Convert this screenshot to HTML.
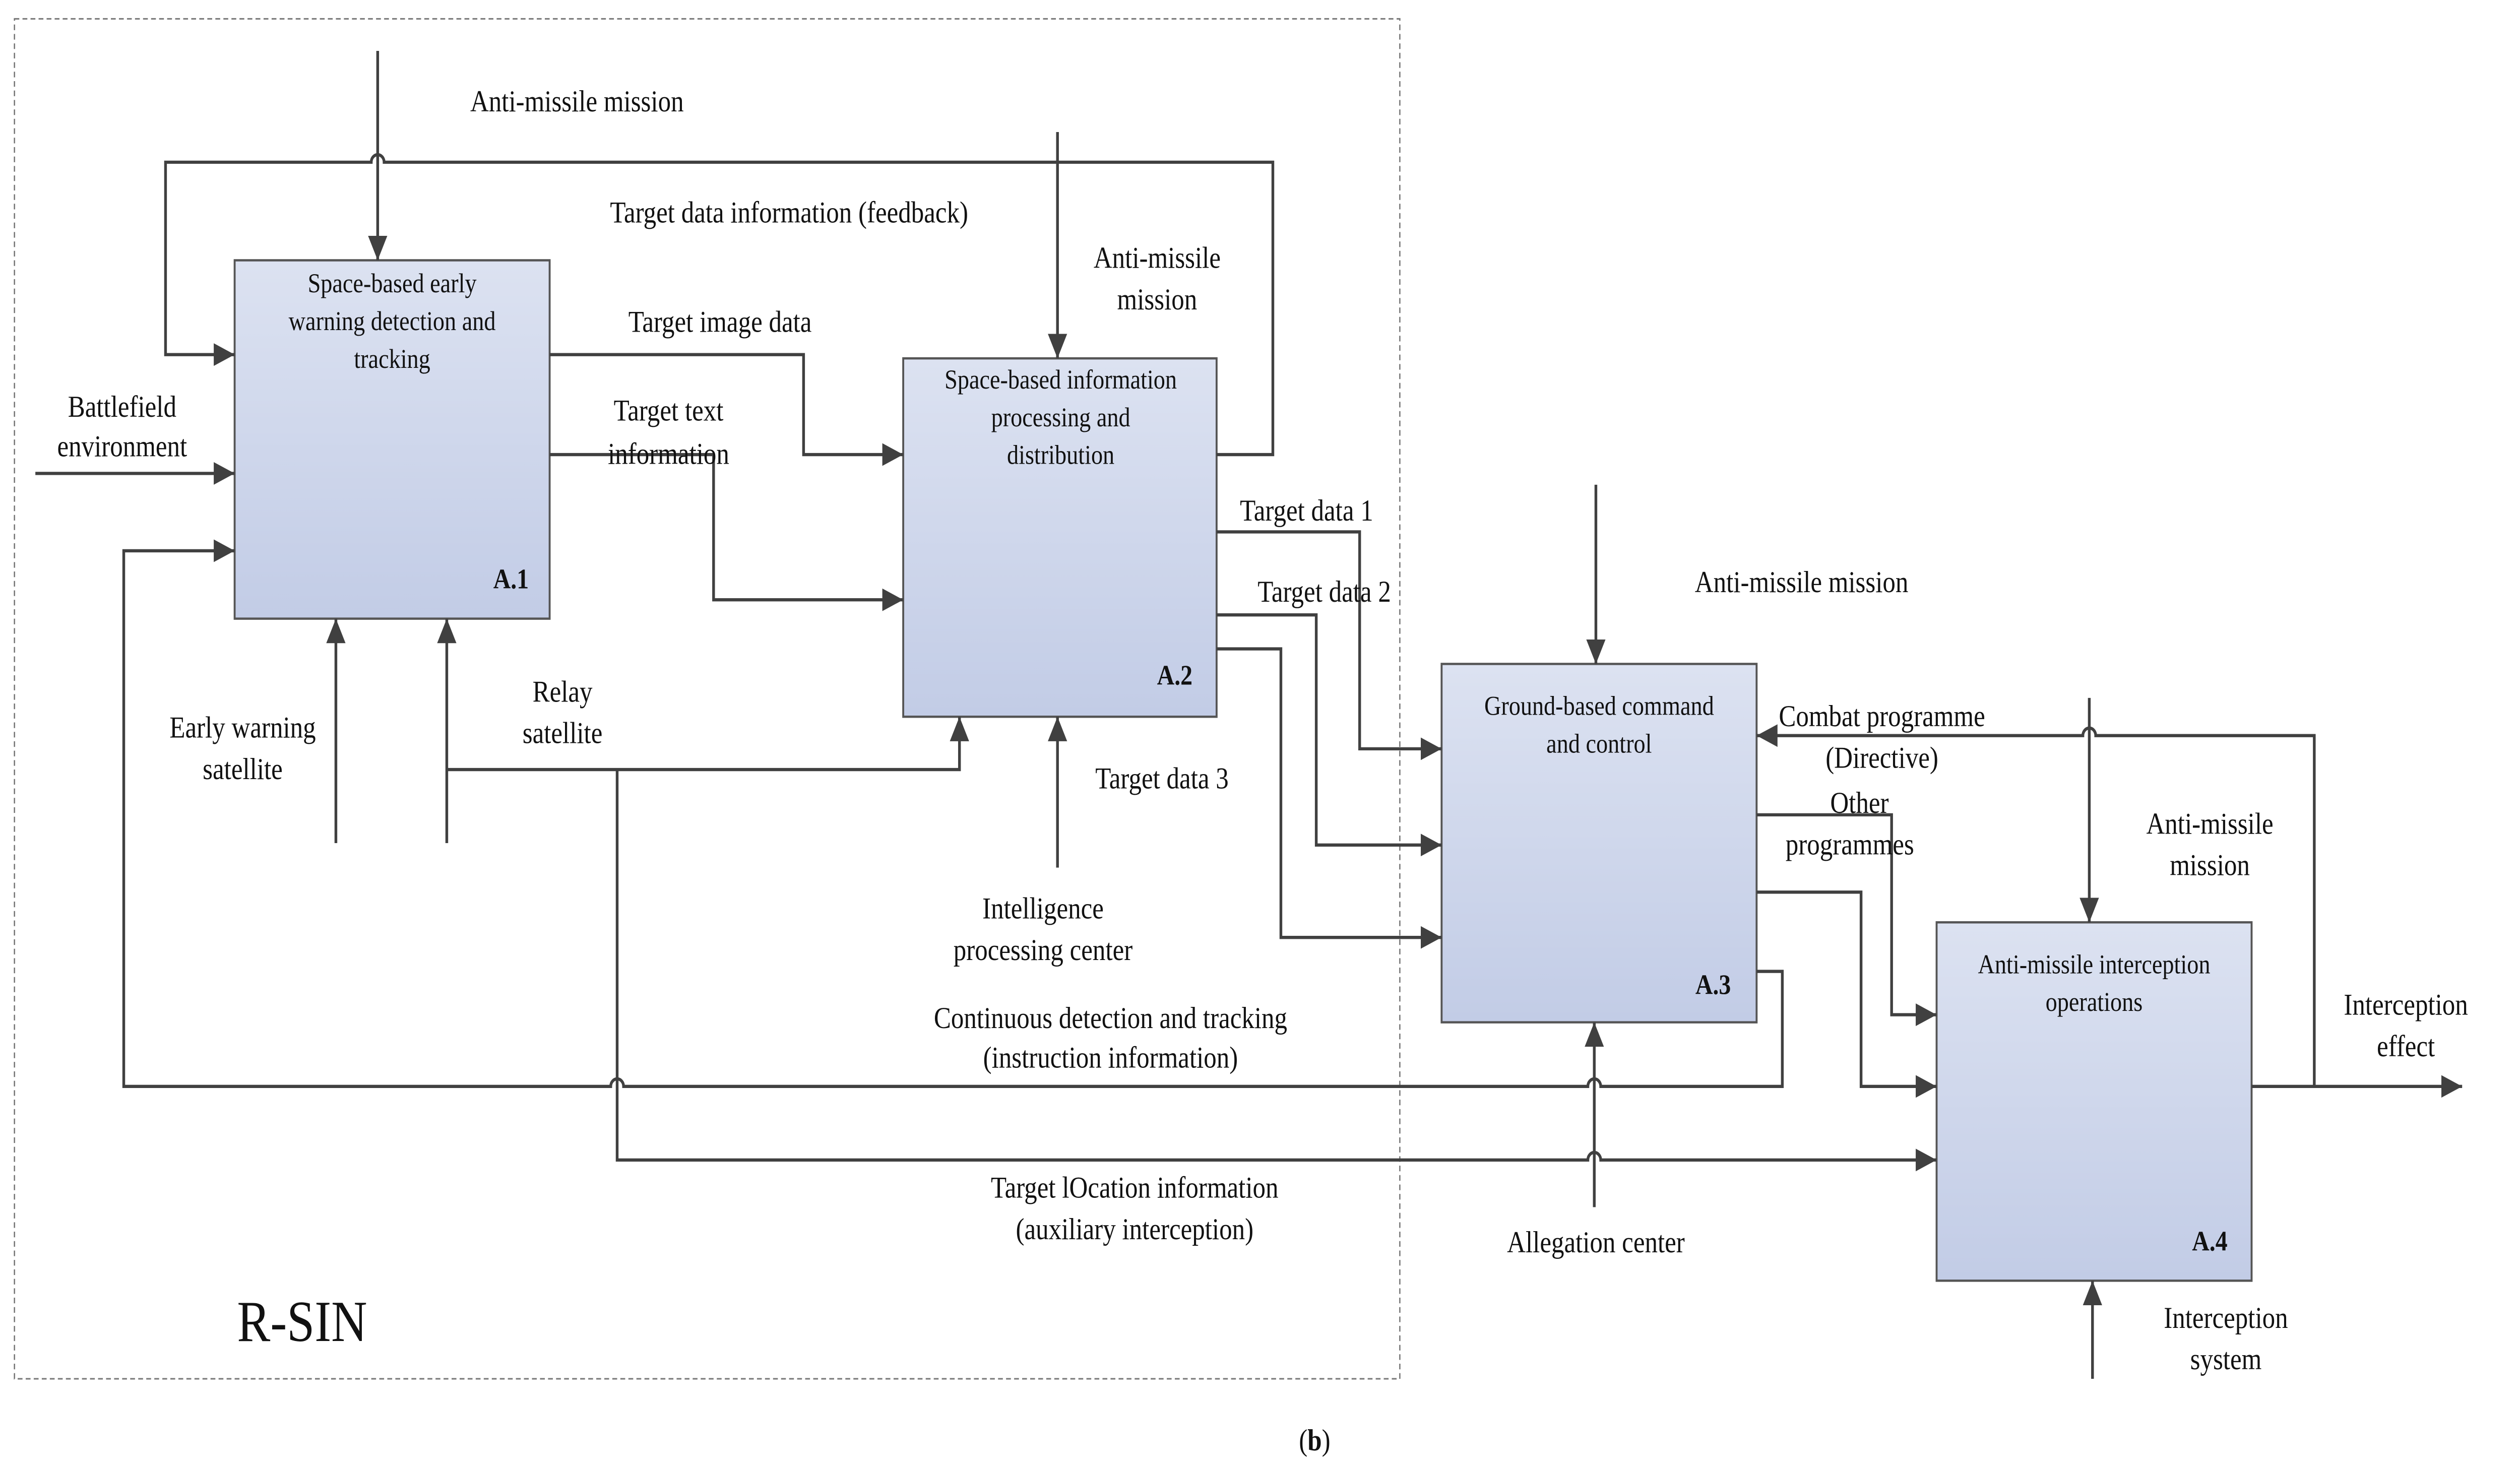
<!DOCTYPE html>
<html><head><meta charset="utf-8"><style>
html,body{margin:0;padding:0;background:#fff;overflow:hidden;}
svg{display:block;width:100vw;height:100vh;}
text{font-family:"Liberation Serif",serif;fill:#111;}
</style></head><body>
<svg viewBox="0 0 1568 778.3" preserveAspectRatio="none" xmlns="http://www.w3.org/2000/svg">
<defs>
<linearGradient id="g" x1="0" y1="0" x2="0" y2="1"><stop offset="0" stop-color="#dce2f1"/><stop offset="1" stop-color="#c2cce6"/></linearGradient>
<marker id="a" markerUnits="userSpaceOnUse" markerWidth="14" markerHeight="12" refX="13" refY="6" orient="auto"><path d="M0,0 L13,6 L0,12 Z" fill="#404040"/></marker>
</defs>
<rect x="9" y="10" width="862" height="721" fill="none" stroke="#777" stroke-width="0.8" stroke-dasharray="3,2"/>
<g fill="url(#g)" stroke="#555" stroke-width="1.2">
<rect x="146" y="138" width="196" height="190"/>
<rect x="562" y="190" width="195" height="190"/>
<rect x="897" y="352" width="196" height="190"/>
<rect x="1205" y="489" width="196" height="190"/>
</g>
<g fill="none" stroke="#404040" stroke-width="1.7">
<path d="M235,27 V138" marker-end="url(#a)"/>
<path d="M757,241 H792 V86 H239 A4,4 0 0 0 231,86 H103 V188 H146" marker-end="url(#a)"/>
<path d="M658,70 V190" marker-end="url(#a)"/>
<path d="M22,251 H146" marker-end="url(#a)"/>
<path d="M1093,515 H1109 V576 H996 A4,4 0 0 0 988,576 H388 A4,4 0 0 0 380,576 H77 V292 H146" marker-end="url(#a)"/>
<path d="M342,188 H500 V241 H562" marker-end="url(#a)"/>
<path d="M342,241 H444 V318 H562" marker-end="url(#a)"/>
<path d="M209,447 V328" marker-end="url(#a)"/>
<path d="M278,447 V328" marker-end="url(#a)"/>
<path d="M278,408 H597 V380" marker-end="url(#a)"/>
<path d="M384,408 V615 H988 A4,4 0 0 1 996,615 H1205" marker-end="url(#a)"/>
<path d="M658,460 V380" marker-end="url(#a)"/>
<path d="M757,282 H846 V397 H897" marker-end="url(#a)"/>
<path d="M757,326 H819 V448 H897" marker-end="url(#a)"/>
<path d="M757,344 H797 V497 H897" marker-end="url(#a)"/>
<path d="M993,257 V352" marker-end="url(#a)"/>
<path d="M992,640 V542" marker-end="url(#a)"/>
<path d="M1401,576 H1532" marker-end="url(#a)"/>
<path d="M1440,576 V390 H1304 A4,4 0 0 0 1296,390 H1093" marker-end="url(#a)"/>
<path d="M1300,370 V489" marker-end="url(#a)"/>
<path d="M1093,432 H1177 V538 H1205" marker-end="url(#a)"/>
<path d="M1093,473 H1158 V576 H1205" marker-end="url(#a)"/>
<path d="M1302,731 V679" marker-end="url(#a)"/>
</g>
<g font-size="14.5" text-anchor="middle">
<text x="244" y="155">Space-based early</text>
<text x="244" y="175">warning detection and</text>
<text x="244" y="195">tracking</text>
<text x="660" y="206">Space-based information</text>
<text x="660" y="226">processing and</text>
<text x="660" y="246">distribution</text>
<text x="995" y="379">Ground-based command</text>
<text x="995" y="399">and control</text>
<text x="1303" y="516">Anti-missile interception</text>
<text x="1303" y="536">operations</text>
</g>
<g font-size="15" font-weight="bold" text-anchor="end">
<text x="329" y="312">A.1</text>
<text x="742" y="363">A.2</text>
<text x="1077" y="527">A.3</text>
<text x="1386" y="663">A.4</text>
</g>
<g font-size="16" text-anchor="middle">
<text x="359" y="59">Anti-missile mission</text>
<text x="491" y="118">Target data information (feedback)</text>
<text x="720" y="142">Anti-missile</text>
<text x="720" y="164">mission</text>
<text x="448" y="176">Target image data</text>
<text x="416" y="223">Target text</text>
<text x="416" y="246">information</text>
<text x="76" y="221">Battlefield</text>
<text x="76" y="242">environment</text>
<text x="151" y="391">Early warning</text>
<text x="151" y="413">satellite</text>
<text x="350" y="372">Relay</text>
<text x="350" y="394">satellite</text>
<text x="723" y="418">Target data 3</text>
<text x="649" y="487">Intelligence</text>
<text x="649" y="509">processing center</text>
<text x="813" y="276">Target data 1</text>
<text x="824" y="319">Target data 2</text>
<text x="1121" y="314">Anti-missile mission</text>
<text x="691" y="545">Continuous detection and tracking</text>
<text x="691" y="566">(instruction information)</text>
<text x="706" y="635">Target lOcation information</text>
<text x="706" y="657">(auxiliary interception)</text>
<text x="993" y="664">Allegation center</text>
<text x="1171" y="385">Combat programme</text>
<text x="1171" y="407">(Directive)</text>
<text x="1157" y="431">Other</text>
<text x="1151" y="453">programmes</text>
<text x="1375" y="442">Anti-missile</text>
<text x="1375" y="464">mission</text>
<text x="1497" y="538">Interception</text>
<text x="1497" y="560">effect</text>
<text x="1385" y="704">Interception</text>
<text x="1385" y="726">system</text>
<text x="818" y="769">(<tspan font-weight="bold">b</tspan>)</text>
</g>
<text x="188" y="711" font-size="31" text-anchor="middle">R-SIN</text>
</svg>
</body></html>
